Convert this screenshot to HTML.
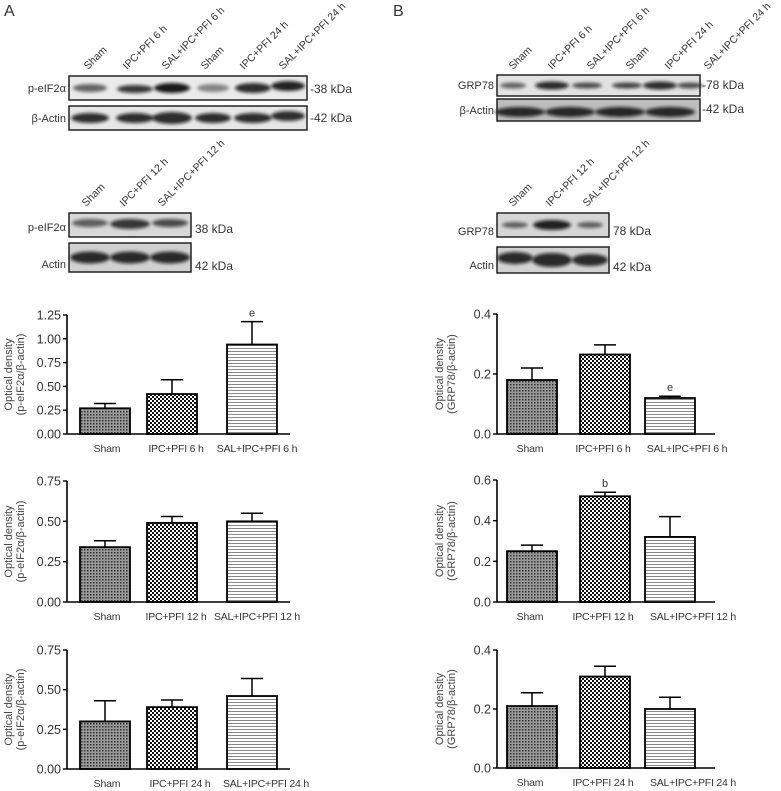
<!DOCTYPE html>
<html><head><meta charset="utf-8"><style>
body{margin:0;background:#fff;}
svg{display:block;font-family:"Liberation Sans",sans-serif;}
</style></head><body>
<svg id="fig" width="781" height="791" viewBox="0 0 781 791">
<defs>
<pattern id="pSham" width="3" height="3" patternUnits="userSpaceOnUse"><rect width="3" height="3" fill="#999"/><rect width="1.5" height="1.5" fill="#333"/></pattern>
<pattern id="pIPC" width="4" height="4" patternUnits="userSpaceOnUse"><rect width="4" height="4" fill="#fff"/><rect width="2" height="2" fill="#111"/><rect x="2" y="2" width="2" height="2" fill="#111"/></pattern>
<pattern id="pSAL" width="4" height="3" patternUnits="userSpaceOnUse"><rect width="4" height="3" fill="#fff"/><rect width="4" height="1" fill="#888"/></pattern>
<filter id="blur" x="-20%" y="-50%" width="140%" height="200%"><feGaussianBlur stdDeviation="1.6"/></filter>
</defs>
<g id="blots"></g>
<g id="charts"></g>
</svg>
<script>
// ---- chart data ----
const catsA1 = ["Sham","IPC+PFI 6 h","SAL+IPC+PFI 6 h"];
const valsA1 = [0.27,0.42,0.94];
const errsA1 = [0.05,0.15,0.24];
const marksA1 = ["","","e"];
const ticksA1 = ["0.00","0.25","0.50","0.75","1.00","1.25"];

const catsA2 = ["Sham","IPC+PFI 12 h","SAL+IPC+PFI 12 h"];
const valsA2 = [0.34,0.49,0.50];
const errsA2 = [0.04,0.04,0.05];
const marksA2 = ["","",""];
const ticksA2 = ["0.00","0.25","0.50","0.75"];

const catsA3 = ["Sham","IPC+PFI 24 h","SAL+IPC+PFI 24 h"];
const valsA3 = [0.30,0.39,0.46];
const errsA3 = [0.13,0.045,0.11];
const marksA3 = ["","",""];
const ticksA3 = ["0.00","0.25","0.50","0.75"];

const catsB1 = ["Sham","IPC+PFI 6 h","SAL+IPC+PFI 6 h"];
const valsB1 = [0.18,0.265,0.12];
const errsB1 = [0.04,0.032,0.006];
const marksB1 = ["","","e"];
const ticksB1 = ["0.0","0.2","0.4"];

const catsB2 = ["Sham","IPC+PFI 12 h","SAL+IPC+PFI 12 h"];
const valsB2 = [0.25,0.52,0.32];
const errsB2 = [0.03,0.02,0.1];
const marksB2 = ["","b",""];
const ticksB2 = ["0.0","0.2","0.4","0.6"];

const catsB3 = ["Sham","IPC+PFI 24 h","SAL+IPC+PFI 24 h"];
const valsB3 = [0.21,0.31,0.20];
const errsB3 = [0.045,0.035,0.04];
const marksB3 = ["","",""];
const ticksB3 = ["0.0","0.2","0.4"];

const NS="http://www.w3.org/2000/svg";
function mk(tag,attrs,parent,text){const e=document.createElementNS(NS,tag);for(const k in attrs)e.setAttribute(k,attrs[k]);if(text!==undefined)e.textContent=text;parent.appendChild(e);return e;}

const fills=["url(#pSham)","url(#pIPC)","url(#pSAL)"];
function chart(id,cats,vals,errs,marks,ticks,ax,y0,yTop,barX,barW,xEnd,ylab,yLabX,labC){
  const g=mk('g',{},document.getElementById('charts'));
  
  
  const ymax=parseFloat(ticks[ticks.length-1]);
  const y=v=>y0-(v/ymax)*(y0-yTop);
  const yA=mk('line',{x1:ax,y1:yTop,x2:ax,y2:y0,stroke:'#000','stroke-width':1.6},g);
  
  
  const xA=mk('line',{x1:ax,y1:y0,x2:xEnd,y2:y0,stroke:'#000','stroke-width':1.6},g);
  
  
  ticks.forEach(t=>{
    const v=parseFloat(t),yy=y(v);
    mk('line',{x1:ax-4,y1:yy,x2:ax,y2:yy,stroke:'#000','stroke-width':1.4},g);
    const tl=mk('text',{x:ax-6,y:yy+4.5,'text-anchor':'end','font-size':12.5,fill:'#333'},g,t);
    
    
  });
  const yl=mk('text',{transform:`translate(${yLabX},${(y0+yTop)/2}) rotate(-90)`,'text-anchor':'middle','font-size':11,fill:'#444'},g);
  
  
  mk('tspan',{x:0,dy:0},yl,'Optical density');
  mk('tspan',{x:0,dy:12},yl,ylab);
  cats.forEach((c,i)=>{
    const bx=barX[i],top=y(vals[i]),et=y(vals[i]+errs[i]),cx=bx+barW/2;
    const eb=mk('line',{x1:cx,y1:et,x2:cx,y2:top,stroke:'#000','stroke-width':1.5},g);
    
    
    mk('line',{x1:cx-11,y1:et,x2:cx+11,y2:et,stroke:'#000','stroke-width':1.5},g);
    const b=mk('rect',{x:bx,y:top,width:barW,height:y0-top,fill:fills[i],stroke:'#000','stroke-width':1.8},g);
    
    
    const lb=mk('text',{x:labC[i],y:y0+18,'text-anchor':'middle','font-size':10.5,fill:'#333','letter-spacing':'-0.2'},g,c);
    
    
    if(marks[i]){const m=mk('text',{x:cx,y:et-5,'text-anchor':'middle','font-size':11,fill:'#333'},g,marks[i]);
      
      }
  });
}
const aBX=[80,147,227],bBX=[507,580,645];
const aLC=[107,176,257],bLC=[530,603,693];
chart('chart-a-6h',catsA1,valsA1,errsA1,marksA1,ticksA1,67,434,315,aBX,50,290,'(p-eIF2α/β-actin)',12,aLC);
chart('chart-a-12h',catsA2,valsA2,errsA2,marksA2,ticksA2,67,602,481,aBX,50,290,'(p-eIF2α/β-actin)',12,aLC);
chart('chart-a-24h',catsA3,valsA3,errsA3,marksA3,ticksA3,67,769,650,aBX,50,290,'(p-eIF2α/β-actin)',12,[107,180,266]);
chart('chart-b-6h',catsB1,valsB1,errsB1,marksB1,ticksB1,497,434,314,bBX,50,715,'(GRP78/β-actin)',443,[530,603,687]);
chart('chart-b-12h',catsB2,valsB2,errsB2,marksB2,ticksB2,497,602,480,bBX,50,715,'(GRP78/β-actin)',443,bLC);
chart('chart-b-24h',catsB3,valsB3,errsB3,marksB3,ticksB3,497,768,650,bBX,50,715,'(GRP78/β-actin)',443,bLC);

// ---- blots ----
const B=document.getElementById('blots');
function txt(x,y,s,anchor,size,name,rot){const t=mk('text',{x:x,y:y,'text-anchor':anchor||'start','font-size':size||11,fill:'#333'},B,s);
  if(rot)t.setAttribute('transform',`rotate(-45 ${x} ${y})`);
  
  return t;}
function blot(x,y,w,h,bg,bands,name){
  const g=mk('g',{},B);
  
  
  mk('rect',{x:x,y:y,width:w,height:h,fill:bg},g);
  bands.forEach(b=>mk('ellipse',{cx:b[0],cy:y+h/2+(b[3]||0),rx:b[1],ry:b[2],fill:'#111',opacity:b[4]||0.85,filter:'url(#blur)'},g));
  mk('rect',{x:x,y:y,width:w,height:h,fill:'none',stroke:'#222','stroke-width':1.5},g);
}
txt(4,16,'A','start',16,'panel-label-a');
txt(393,16,'B','start',16,'panel-label-b');
const laneA=["Sham","IPC+PFI 6 h","SAL+IPC+PFI 6 h","Sham","IPC+PFI 24 h","SAL+IPC+PFI 24 h"];
laneA.forEach((s,i)=>txt(88+i*39,70,s,'start',10.5,'lane-label',true));
blot(69,76,238,24,'#eaeaea',[[90,17,4,0,0.6],[135,18,4,1,0.8],[172,18,5,0,0.95],[213,16,4,0,0.45],[253,18,5,0,0.85],[288,17,5,-2,0.9]],'blot-p-eif2a-6-24h');
blot(69,106,238,24,'#e6e6e6',[[90,19,5],[135,19,5],[172,20,6],[213,18,5],[253,19,5],[288,17,5,-2]],'blot-actin-6-24h');
txt(66,92,'p-eIF2α','end',11,'blot-row-label');
txt(66,122,'β-Actin','end',11,'blot-row-label');
txt(310,93,'-38 kDa','start',12,'kda-label');
txt(310,122,'-42 kDa','start',12,'kda-label');
["Sham","IPC+PFI 12 h","SAL+IPC+PFI 12 h"].forEach((s,i)=>txt(86+i*38,207,s,'start',10.5,'lane-label',true));
blot(69,213,122,24,'#d8d8d8',[[90,18,4,-2,0.6],[130,20,5,-1,0.8],[170,18,4,-2,0.7]],'blot-p-eif2a-12h');
blot(69,243,122,29,'#d0d0d0',[[90,20,6],[130,20,6],[170,20,6]],'blot-actin-12h');
txt(66,231,'p-eIF2α','end',11,'blot-row-label');
txt(66,268,'Actin','end',11,'blot-row-label');
txt(195,233,'38 kDa','start',12,'kda-label');
txt(195,270,'42 kDa','start',12,'kda-label');
laneA.forEach((s,i)=>txt(513+i*39,70,s,'start',10.5,'lane-label',true));
blot(497,75,203,21,'#e2e2e2',[[513,13,3,0,0.6],[552,17,4,0,0.85],[587,15,3,0,0.7],[627,15,3,0,0.75],[660,17,4,0,0.85],[690,13,3,0,0.7]],'blot-grp78-6-24h');
blot(497,99,203,22,'#bdbdbd',[[520,25,5,2],[570,25,5,2],[620,25,5,2],[670,25,5,2]],'blot-actin-b-6-24h');
txt(494,89,'GRP78','end',11,'blot-row-label');
txt(494,114,'β-Actin','end',11,'blot-row-label');
txt(702,89,'-78 kDa','start',12,'kda-label');
txt(702,113,'-42 kDa','start',12,'kda-label');
["Sham","IPC+PFI 12 h","SAL+IPC+PFI 12 h"].forEach((s,i)=>txt(513+i*37,207,s,'start',10.5,'lane-label',true));
blot(497,213,112,24,'#d6d6d6',[[515,13,3,0,0.6],[552,19,5,0,0.9],[590,13,3,0,0.6]],'blot-grp78-12h');
blot(497,247,112,26,'#d2d2d2',[[515,18,6,-2],[552,20,7],[590,18,6]],'blot-actin-b-12h');
txt(494,235,'GRP78','end',11,'blot-row-label');
txt(494,269,'Actin','end',11,'blot-row-label');
txt(613,235,'78 kDa','start',12,'kda-label');
txt(613,271,'42 kDa','start',12,'kda-label');
</script>
</body></html>
